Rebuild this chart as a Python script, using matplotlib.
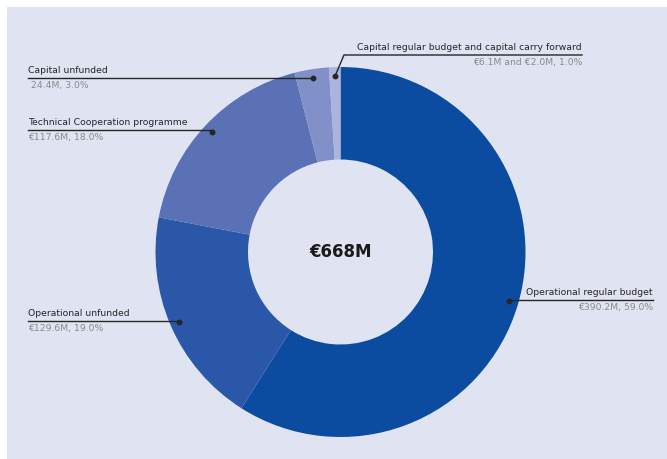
import numpy as np
import matplotlib
matplotlib.use("Agg")
import matplotlib.pyplot as plt
from matplotlib.patches import Rectangle

labels = ["Operational regular budget", "Operational unfunded",
          "Technical Cooperation programme", "Capital unfunded",
          "Capital regular budget and capital carry forward"]
shares = [59.0, 19.0, 18.0, 3.0, 1.0]
details = ["€390.2M, 59.0%", "€129.6M, 19.0%", "€117.6M, 18.0%",
           " 24.4M, 3.0%", "€6.1M and €2.0M, 1.0%"]
colors = ["#0b4ca1", "#2a57a8", "#5a72b5", "#8190c8", "#aab4dc"]
total_label = "€668M"

W, H = 667, 459
fig = plt.figure(figsize=(W / 100, H / 100), dpi=100)
fig.patch.set_facecolor("white")
ax = fig.add_axes([0, 0, 1, 1])
ax.set_facecolor("none")

cx, cy, R = 340.5, H - 252, 185
wedges, _ = ax.pie(shares, colors=colors, startangle=90, counterclock=False,
                   center=(cx, cy), radius=R,
                   wedgeprops=dict(width=R * 0.5, linewidth=0))
ax.set_xlim(0, W)
ax.set_ylim(0, H)
ax.axis("off")
ax.add_patch(Rectangle((7, 0), W, H - 7, facecolor="#e0e3f1", edgecolor="none", zorder=-10))

ax.text(cx + 0.5, cy, total_label, ha="center", va="center", fontsize=12,
        fontweight="bold", color="#1a1a1a")

fs = 6.7
dark = "#262626"
grey = "#8a8a8a"
layout = {
    0: ("right", 653, H - 300, None),
    1: ("left", 28, H - 321, None),
    2: ("left", 28, H - 130, None),
    3: ("left", 28, None, None),
    4: ("right", 582, H - 55, True),
}
for i, w in enumerate(wedges):
    ang = np.deg2rad((w.theta1 + w.theta2) / 2)
    px = cx + 0.95 * R * np.cos(ang)
    py = cy + 0.95 * R * np.sin(ang)
    side, xt, yl, elbow = layout[i]
    if yl is None:
        yl = py
    ax.plot([px], [py], "o", color=dark, ms=3.2, zorder=5)
    if elbow:
        ex = px + 9
        ax.plot([px, ex, xt], [py, yl, yl], color=dark, lw=1.0)
    elif side == "right":
        ax.plot([px, xt], [yl, yl], color=dark, lw=1.0)
    else:
        ax.plot([xt, px], [yl, yl], color=dark, lw=1.0)
    ha = "right" if side == "right" else "left"
    ax.text(xt, yl + 3, labels[i], ha=ha, va="bottom", fontsize=fs, color=dark)
    ax.text(xt, yl - 3, details[i], ha=ha, va="top", fontsize=fs, color=grey)

fig.savefig("out.png", dpi=100)
